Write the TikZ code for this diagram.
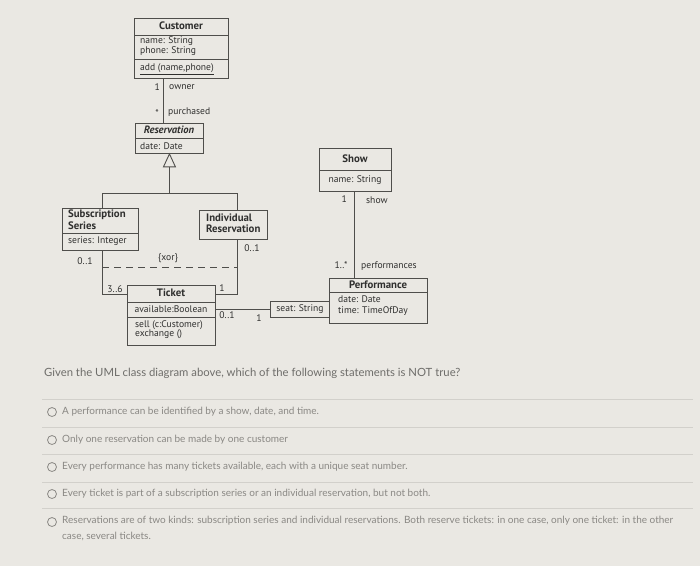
\documentclass[tikz,border=0pt]{standalone}
\usepackage{fontspec}
\setmainfont{PT Sans}
\newfontfamily\latof{Lato}
\usetikzlibrary{calc}
\definecolor{bg}{HTML}{EAE8E3}
\definecolor{ln}{HTML}{4F4E4B}
\definecolor{tx}{HTML}{2F2F2E}
\definecolor{qt}{HTML}{6E6D6A}
\definecolor{op}{HTML}{8A8884}
\definecolor{sepc}{HTML}{D2D0CB}
\begin{document}
\begin{tikzpicture}[x=1pt,y=-1pt,
  box/.style={draw=ln, line width=0.9pt, inner sep=0, anchor=north west},
  cl/.style={draw=ln, line width=0.9pt},
  lbl/.style={font=\fontsize{9.6}{10}\selectfont, text=tx, inner sep=0},
  ttl/.style={font=\bfseries\fontsize{10.8}{11}\selectfont, text=tx, inner sep=0},
  lft/.style={lbl, anchor=west},
  conn/.style={draw=ln, line width=0.9pt},
  qtext/.style={font=\latof\fontsize{11.3}{13}\selectfont, text=qt, inner sep=0, anchor=west},
  otext/.style={font=\latof\fontsize{10}{16}\selectfont, text=op, inner sep=0, anchor=west},
  radio/.style={draw=op, line width=0.8pt, circle, minimum size=9pt, inner sep=0},
  rule/.style={draw=sepc, line width=0.8pt}]
\fill[bg] (0,0) rectangle (700,566);
\useasboundingbox (0,0) rectangle (700,566);

% Customer
\node[box, minimum width=94pt, minimum height=60pt] (cust) at (134,18) {};
\draw[cl] (134,35) -- (228,35);
\draw[cl] (134,59) -- (228,59);
\node[ttl] (custT) at (181,26) {Customer};
\node[lft] (custA1) at (140,41) {name: String};
\node[lft] (custA2) at (140,51) {phone: String};
\node[lft] (custO1) at (140,69) {\underline{add (name,phone)}};

% Reservation
\node[box, minimum width=68pt, minimum height=30pt] (res) at (135,123) {};
\draw[cl] (135,138) -- (203,138);
\node[ttl, font=\bfseries\itshape\fontsize{10.6}{11}\selectfont] (resT) at (169,130) {Reservation};
\node[lft] (resA1) at (140,146) {date: Date};

% Customer -- Reservation
\draw[conn] ($(cust.south west)+(29,0)$) -- ($(res.north west)+(28,0)$);
\node[lbl, anchor=east] (m1) at (160,87) {1};
\node[lft] (r1) at (169,87) {owner};
\node[lbl, anchor=east] (m2) at (159,113) {*};
\node[lft] (r2) at (168,112) {purchased};

% Subscription Series
\node[box, minimum width=76pt, minimum height=42pt] (ss) at (62,208) {};
\draw[cl] (62,233) -- (138,233);
\node[ttl, anchor=west] (ssT1) at (68,215) {Subscription};
\node[ttl, anchor=west] (ssT2) at (68,226) {Series};
\node[lft] (ssA1) at (68,241) {series: Integer};

% Individual Reservation
\node[box, minimum width=68pt, minimum height=29pt] (ir) at (199,210) {};
\node[ttl, anchor=west] (irT1) at (206,218) {Individual};
\node[ttl, anchor=west] (irT2) at (206,229) {Reservation};

% Generalization
\coordinate (gtip) at (res.south);
\coordinate (gbase) at ($(res.south)+(0,13)$);
\draw[conn, fill=bg] (gtip) -- ($(gbase)+(-6,0)$) -- ($(gbase)+(6,0)$) -- cycle;
\coordinate (gj) at ($(gbase)+(0,27)$);
\draw[conn] (gbase) -- (gj);
\draw[conn] ($(ss.north)+(2,0)$) |- (gj) -| ($(ir.north)+(4,0)$);

% Ticket
\node[box, minimum width=88pt, minimum height=60pt] (tk) at (127,285) {};
\draw[cl] (127,302) -- (215,302);
\draw[cl] (127,317) -- (215,317);
\node[ttl] (tkT) at (171,293) {Ticket};
\node[lbl] (tkA1) at (171,309) {available:Boolean};
\node[lft] (tkO1) at (135,325) {sell (c:Customer)};
\node[lft] (tkO2) at (135,334) {exchange ()};

% Series/Individual -- Ticket
\coordinate (ssb) at ($(ss.south)+(2,0)$);
\coordinate (irb) at ($(ir.south)+(4,0)$);
\draw[conn] (ssb) |- ($(tk.north west)+(0,9)$);
\draw[conn] (irb) |- ($(tk.north east)+(0,9)$);
\draw[conn, dash pattern=on 7pt off 5pt] ($(ssb)+(0,17)$) -- ($(irb |- ssb)+(0,17)$);
\node[lbl] (xor) at (168,258) {\{xor\}};
\node[lbl] (m3) at (85,261) {0..1};
\node[lbl] (m4) at (252,248) {0..1};
\node[lbl] (m5) at (115,289) {3..6};
\node[lbl] (m6) at (222,288) {1};

% Show
\node[box, minimum width=72pt, minimum height=43pt] (show) at (319,148) {};
\draw[cl] (319,170) -- (391,170);
\node[ttl] (showT) at (355,159) {Show};
\node[lbl] (showA1) at (355,180) {name: String};

% Performance
\node[box, minimum width=98pt, minimum height=45pt] (perf) at (329,278) {};
\draw[cl] (329,292) -- (427,292);
\node[ttl] (perfT) at (378,285) {Performance};
\node[lft] (perfA1) at (338,299) {date: Date};
\node[lft] (perfA2) at (338,311) {time: TimeOfDay};

% qualifier
\node[box, minimum width=59pt, minimum height=16pt] (qual) at (270,301) {};
\node[lbl] (qualT) at (qual.center) {seat: String};

% Show -- Performance
\coordinate (sb) at ($(show.south)+(-1,0)$);
\draw[conn] (sb) -- (sb |- perf.north);
\node[lbl, anchor=east] (m7) at (347,199) {1};
\node[lft] (r7) at (366,200) {show};
\node[lbl] (m8) at (341,265) {1..*};
\node[lft] (r8) at (361,266) {performances};

% Ticket -- qualifier
\draw[conn] (qual.west -| tk.east) -- (qual.west);
\node[lbl] (m9) at (227,315) {0..1};
\node[lbl] (m10) at (259,318) {1};

% Question
\node[qtext] (q) at (44,373) {Given the UML class diagram above, which of the following statements is NOT true?};
\draw[rule] (42,399) -- (693,399);
\draw[rule] (42,427) -- (693,427);
\draw[rule] (42,454) -- (693,454);
\draw[rule] (42,482) -- (693,482);
\draw[rule] (42,508) -- (693,508);
\node[radio] (c1) at (52,412) {};
\node[otext] (o1) at (62,412) {A performance can be identified by a show, date, and time.};
\node[radio] (c2) at (52,440) {};
\node[otext] (o2) at (62,440) {Only one reservation can be made by one customer};
\node[radio] (c3) at (52,467) {};
\node[otext] (o3) at (62,467) {Every performance has many tickets available, each with a unique seat number.};
\node[radio] (c4) at (52,494) {};
\node[otext] (o4) at (62,494) {Every ticket is part of a subscription series or an individual reservation, but not both.};
\node[radio] (c5) at (52,522) {};
\node[otext, align=left, anchor=north west] (o5) at (62,516) {Reservations are of two kinds: subscription series and individual reservations. Both reserve tickets: in one case, only one ticket: in the other\\case, several tickets.};
\end{tikzpicture}
\end{document}
